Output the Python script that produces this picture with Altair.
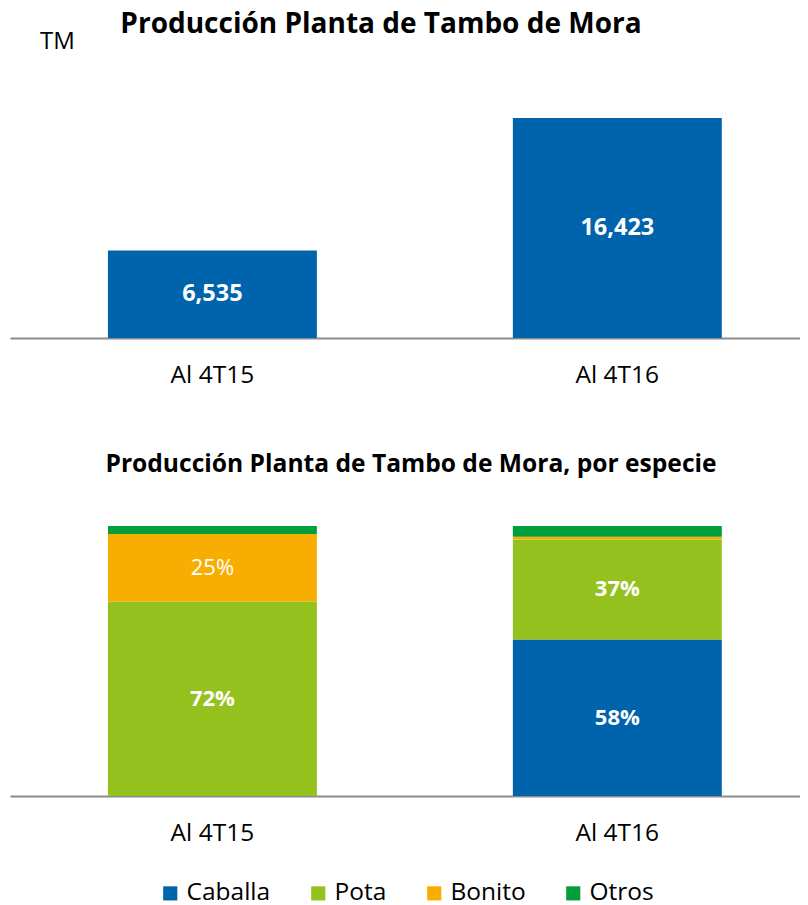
import altair as alt
import pandas as pd

periods = ["Al 4T15", "Al 4T16"]
production_tm = [6535, 16423]

species = ["Caballa", "Pota", "Bonito", "Otros"]
share_4t15 = [0, 72, 25, 3]
share_4t16 = [58, 37, 1, 4]
bold_labels = ["72%", "37%", "58%"]
normal_labels = ["25%"]

colors = ["#0064AD", "#95C11F", "#F8AE00", "#009F3B"]
FONT = "Open Sans"

top_df = pd.DataFrame({"period": periods, "value": production_tm})

rows = []
for p, shares in zip(periods, [share_4t15, share_4t16]):
    for i, (s, v) in enumerate(zip(species, shares)):
        rows.append({"period": p, "species": s, "share": v, "order": i})
bot_df = pd.DataFrame(rows)
bot_df["label"] = bot_df["share"].astype(str) + "%"

W = 790
xscale = alt.Scale(paddingInner=0.484, paddingOuter=0.2175, align=0.556)
xaxis = alt.Axis(title=None, labelAngle=0, labelFontSize=24.5, labelColor="#000000",
                 labelFont=FONT, ticks=False, domainColor="#8C8C8C", domainWidth=2,
                 labelPadding=25)

top_base = alt.Chart(top_df).encode(
    x=alt.X("period:N", sort=periods, scale=xscale, axis=xaxis)
)
top_bars = top_base.mark_bar(color="#0064AD").encode(
    y=alt.Y("value:Q", scale=alt.Scale(domain=[0, 20000]), axis=None)
)
top_text = top_base.transform_calculate(half="datum.value / 2").mark_text(
    color="white", fontWeight="bold", fontSize=23.5, font=FONT
).encode(
    y=alt.Y("half:Q", scale=alt.Scale(domain=[0, 20000]), axis=None),
    text=alt.Text("value:Q", format=","),
)
tm_text = alt.Chart(pd.DataFrame({"t": ["TM"]})).mark_text(
    fontSize=24, font=FONT, color="#000000", align="left"
).encode(x=alt.value(30), y=alt.value(-28), text="t:N")

top = alt.layer(top_bars, top_text, tm_text).properties(
    width=W, height=268,
    title=alt.TitleParams("Producción Planta de Tambo de Mora", fontSize=28,
                          font=FONT, fontWeight="bold", color="#000000",
                          offset=-9, anchor="middle", dx=-24),
)

stacked = alt.Chart(bot_df).transform_stack(
    stack="share", as_=["y0", "y1"], groupby=["period"],
    sort=[alt.SortField("order", order="ascending")],
).transform_calculate(mid="(datum.y0 + datum.y1) / 2")

pscale = alt.Scale(domain=[0, 100])
bot_bars = stacked.mark_bar().encode(
    x=alt.X("period:N", sort=periods, scale=xscale, axis=xaxis),
    y=alt.Y("y0:Q", scale=pscale, axis=None),
    y2="y1:Q",
    color=alt.Color("species:N", sort=species,
                    scale=alt.Scale(domain=species, range=colors),
                    legend=alt.Legend(title=None, orient="none", direction="horizontal",
                                      legendX=148, legendY=811,
                                      symbolType="square", symbolSize=200,
                                      symbolStrokeWidth=0, labelOffset=4,
                                      labelFontSize=24.5, labelFont=FONT,
                                      labelColor="#000000", columnPadding=35)),
)
bold_txt = stacked.transform_filter(
    alt.FieldOneOfPredicate(field="label", oneOf=bold_labels)
).mark_text(color="white", fontWeight="bold", fontSize=22, font=FONT).encode(
    x=alt.X("period:N", sort=periods, scale=xscale, axis=xaxis),
    y=alt.Y("mid:Q", scale=pscale, axis=None),
    text="label:N",
)
norm_txt = stacked.transform_filter(
    alt.FieldOneOfPredicate(field="label", oneOf=normal_labels)
).mark_text(color="white", fontSize=22, font=FONT).encode(
    x=alt.X("period:N", sort=periods, scale=xscale, axis=xaxis),
    y=alt.Y("mid:Q", scale=pscale, axis=None),
    text="label:N",
)

bottom = alt.layer(bot_bars, bold_txt, norm_txt).properties(
    width=W, height=270,
    title=alt.TitleParams("Producción Planta de Tambo de Mora, por especie", fontSize=24.6,
                          font=FONT, fontWeight="bold", color="#000000",
                          offset=48, anchor="middle", dx=6),
)

chart = alt.vconcat(top, bottom, spacing=65).properties(
    padding={"left": 2, "top": 3, "right": 0, "bottom": 4}
).configure_view(stroke=None)

chart.save("out.html", embed_options={"renderer": "svg", "actions": False})
